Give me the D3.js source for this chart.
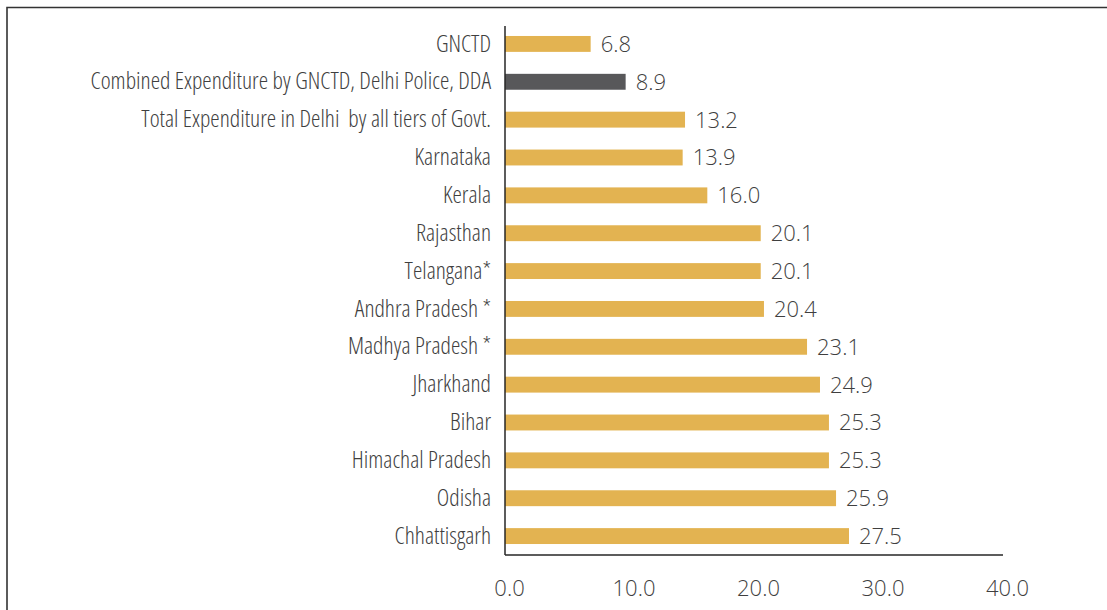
<!DOCTYPE html>
<meta charset="utf-8">
<style type="text/css">
  body {
    margin: 0;
    background: #fff;
  }
  .y-axis text {
    font-family: "Open Sans", sans-serif;
    font-weight: 300;
    font-stretch: 75%;
    font-size: 23.7px;
    fill: #3f3f3f;
    white-space: pre;
  }
  .x-axis text, .value {
    font-family: "Open Sans", sans-serif;
    font-weight: 300;
    font-size: 22px;
    fill: #3f3f3f;
  }
  .domain {
    stroke: #262626;
    stroke-width: 1.5;
  }
</style>
<body>
<svg width="1107" height="610"></svg>
<script src="https://d3js.org/d3.v7.min.js"></script>
<script>
  // categories top to bottom
  var categories = ["GNCTD", "Combined Expenditure by GNCTD, Delhi Police, DDA",
    "Total Expenditure in Delhi  by all tiers of Govt.", "Karnataka", "Kerala",
    "Rajasthan", "Telangana*", "Andhra Pradesh *", "Madhya Pradesh *", "Jharkhand",
    "Bihar", "Himachal Pradesh", "Odisha", "Chhattisgarh"];
  // bar lengths as drawn in the picture (they do not always agree with the printed labels)
  var values = [6.88, 9.69, 14.46, 14.27, 16.25, 20.54, 20.54, 20.8, 24.26, 25.3, 26.02, 26.02, 26.59, 27.63];
  // printed labels
  var labels = ["6.8", "8.9", "13.2", "13.9", "16.0", "20.1", "20.1", "20.4", "23.1", "24.9", "25.3", "25.3", "25.9", "27.5"];
  var xticks = [0, 10, 20, 30, 40];
  var highlight = "Combined Expenditure by GNCTD, Delhi Police, DDA";

  var svg = d3.select("svg");

  // frame
  svg.append("path")
    .attr("d", "M7,610V7.5H1107")
    .attr("fill", "none")
    .attr("stroke", "#333")
    .attr("stroke-width", 1.6);

  var x = d3.scaleLinear().domain([0, 40]).range([505, 1003]);
  var y = d3.scaleBand().domain(categories).range([25, 555])
    .paddingInner(0.58).paddingOuter(0.29);

  /* bars */
  svg.append("g")
    .selectAll("rect")
    .data(values)
    .enter().append("rect")
      .attr("x", x(0))
      .attr("y", function(d, i) { return y(categories[i]); })
      .attr("width", function(d) { return x(d) - x(0); })
      .attr("height", y.bandwidth())
      .attr("fill", function(d, i) { return categories[i] == highlight ? "#58585a" : "#e3b351"; });

  /* value labels */
  svg.append("g")
    .selectAll("text")
    .data(values)
    .enter().append("text")
      .attr("class", "value")
      .attr("x", function(d) { return x(d) + 10; })
      .attr("y", function(d, i) { return y(categories[i]) + y.bandwidth() / 2; })
      .attr("dy", "0.36em")
      .text(function(d, i) { return labels[i]; });

  /* axes */
  svg.append("g")
    .attr("class", "x-axis")
    .attr("transform", "translate(0,555)")
    .call(d3.axisBottom(x).tickValues(xticks).tickSize(0).tickPadding(25)
      .tickFormat(function(d) { return d.toFixed(1); }))
    .selectAll("text").attr("dx", 4);

  svg.append("g")
    .attr("class", "y-axis")
    .attr("transform", "translate(505,0)")
    .call(d3.axisLeft(y).tickSize(0).tickPadding(14));

  svg.selectAll(".domain").attr("d", function() {
    return d3.select(this.parentNode).classed("x-axis") ? "M505,0H1003" : "M0,26V555";
  });
</script>
</body>
